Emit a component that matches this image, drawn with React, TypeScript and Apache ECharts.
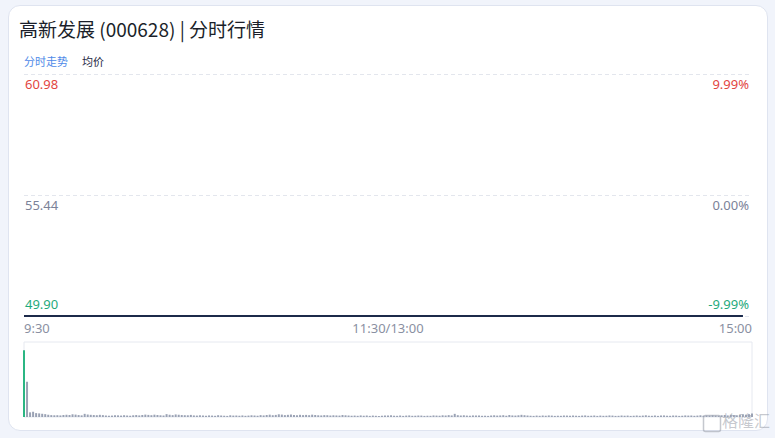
import React, { useEffect, useRef } from "react";
import * as echarts from "echarts";

const titleText = "高新发展 (000628) | 分时行情";
const legendNames = ["分时走势", "均价"];
const prevClose = 55.44;
const priceTickLabels = ["49.90", "55.44", "60.98"];
const pctTickLabels = ["-9.99%", "0.00%", "9.99%"];
const pctMin = -9.99;
const pctMax = 9.99;
const priceMin = 49.9;
const priceMax = 60.98;
const volMax = 10000;

// 9:30..11:30 and 13:01..15:00
const morningStart = 9 * 60 + 30;
const afternoonStart = 13 * 60 + 1;
const times: string[] = [];
for (let m = morningStart; m <= 11 * 60 + 30; m++) times.push(`${Math.floor(m / 60)}:${String(m % 60).padStart(2, "0")}`);
for (let m = afternoonStart; m <= 15 * 60; m++) times.push(`${Math.floor(m / 60)}:${String(m % 60).padStart(2, "0")}`);
const midLabel = "11:30/13:00";

const price = [
  49.9, 49.9, 49.9, 49.9, 49.9, 49.9, 49.9, 49.9, 49.9, 49.9, 49.9, 49.9, 49.9, 49.9, 49.9, 49.9, 49.9, 49.9, 49.9, 49.9,
  49.9, 49.9, 49.9, 49.9, 49.9, 49.9, 49.9, 49.9, 49.9, 49.9, 49.9, 49.9, 49.9, 49.9, 49.9, 49.9, 49.9, 49.9, 49.9, 49.9,
  49.9, 49.9, 49.9, 49.9, 49.9, 49.9, 49.9, 49.9, 49.9, 49.9, 49.9, 49.9, 49.9, 49.9, 49.9, 49.9, 49.9, 49.9, 49.9, 49.9,
  49.9, 49.9, 49.9, 49.9, 49.9, 49.9, 49.9, 49.9, 49.9, 49.9, 49.9, 49.9, 49.9, 49.9, 49.9, 49.9, 49.9, 49.9, 49.9, 49.9,
  49.9, 49.9, 49.9, 49.9, 49.9, 49.9, 49.9, 49.9, 49.9, 49.9, 49.9, 49.9, 49.9, 49.9, 49.9, 49.9, 49.9, 49.9, 49.9, 49.9,
  49.9, 49.9, 49.9, 49.9, 49.9, 49.9, 49.9, 49.9, 49.9, 49.9, 49.9, 49.9, 49.9, 49.9, 49.9, 49.9, 49.9, 49.9, 49.9, 49.9,
  49.9, 49.9, 49.9, 49.9, 49.9, 49.9, 49.9, 49.9, 49.9, 49.9, 49.9, 49.9, 49.9, 49.9, 49.9, 49.9, 49.9, 49.9, 49.9, 49.9,
  49.9, 49.9, 49.9, 49.9, 49.9, 49.9, 49.9, 49.9, 49.9, 49.9, 49.9, 49.9, 49.9, 49.9, 49.9, 49.9, 49.9, 49.9, 49.9, 49.9,
  49.9, 49.9, 49.9, 49.9, 49.9, 49.9, 49.9, 49.9, 49.9, 49.9, 49.9, 49.9, 49.9, 49.9, 49.9, 49.9, 49.9, 49.9, 49.9, 49.9,
  49.9, 49.9, 49.9, 49.9, 49.9, 49.9, 49.9, 49.9, 49.9, 49.9, 49.9, 49.9, 49.9, 49.9, 49.9, 49.9, 49.9, 49.9, 49.9, 49.9,
  49.9, 49.9, 49.9, 49.9, 49.9, 49.9, 49.9, 49.9, 49.9, 49.9, 49.9, 49.9, 49.9, 49.9, 49.9, 49.9, 49.9, 49.9, 49.9, 49.9,
  49.9, 49.9, 49.9, 49.9, 49.9, 49.9, 49.9, 49.9, 49.9, 49.9, 49.9, 49.9, 49.9, 49.9, 49.9, 49.9, 49.9, 49.9,
];

const avgPrice = [
  49.9, 49.9, 49.9, 49.9, 49.9, 49.9, 49.9, 49.9, 49.9, 49.9, 49.9, 49.9, 49.9, 49.9, 49.9, 49.9, 49.9, 49.9, 49.9, 49.9,
  49.9, 49.9, 49.9, 49.9, 49.9, 49.9, 49.9, 49.9, 49.9, 49.9, 49.9, 49.9, 49.9, 49.9, 49.9, 49.9, 49.9, 49.9, 49.9, 49.9,
  49.9, 49.9, 49.9, 49.9, 49.9, 49.9, 49.9, 49.9, 49.9, 49.9, 49.9, 49.9, 49.9, 49.9, 49.9, 49.9, 49.9, 49.9, 49.9, 49.9,
  49.9, 49.9, 49.9, 49.9, 49.9, 49.9, 49.9, 49.9, 49.9, 49.9, 49.9, 49.9, 49.9, 49.9, 49.9, 49.9, 49.9, 49.9, 49.9, 49.9,
  49.9, 49.9, 49.9, 49.9, 49.9, 49.9, 49.9, 49.9, 49.9, 49.9, 49.9, 49.9, 49.9, 49.9, 49.9, 49.9, 49.9, 49.9, 49.9, 49.9,
  49.9, 49.9, 49.9, 49.9, 49.9, 49.9, 49.9, 49.9, 49.9, 49.9, 49.9, 49.9, 49.9, 49.9, 49.9, 49.9, 49.9, 49.9, 49.9, 49.9,
  49.9, 49.9, 49.9, 49.9, 49.9, 49.9, 49.9, 49.9, 49.9, 49.9, 49.9, 49.9, 49.9, 49.9, 49.9, 49.9, 49.9, 49.9, 49.9, 49.9,
  49.9, 49.9, 49.9, 49.9, 49.9, 49.9, 49.9, 49.9, 49.9, 49.9, 49.9, 49.9, 49.9, 49.9, 49.9, 49.9, 49.9, 49.9, 49.9, 49.9,
  49.9, 49.9, 49.9, 49.9, 49.9, 49.9, 49.9, 49.9, 49.9, 49.9, 49.9, 49.9, 49.9, 49.9, 49.9, 49.9, 49.9, 49.9, 49.9, 49.9,
  49.9, 49.9, 49.9, 49.9, 49.9, 49.9, 49.9, 49.9, 49.9, 49.9, 49.9, 49.9, 49.9, 49.9, 49.9, 49.9, 49.9, 49.9, 49.9, 49.9,
  49.9, 49.9, 49.9, 49.9, 49.9, 49.9, 49.9, 49.9, 49.9, 49.9, 49.9, 49.9, 49.9, 49.9, 49.9, 49.9, 49.9, 49.9, 49.9, 49.9,
  49.9, 49.9, 49.9, 49.9, 49.9, 49.9, 49.9, 49.9, 49.9, 49.9, 49.9, 49.9, 49.9, 49.9, 49.9, 49.9, 49.9, 49.9,
];

const volume = [
  8900, 4700, 620, 700, 520, 480, 430, 380, 300, 250, 230, 240, 210, 260, 300, 270, 360, 320, 260, 220,
  420, 330, 290, 260, 240, 290, 250, 200, 170, 190, 230, 220, 190, 240, 200, 170, 230, 260, 210, 270,
  320, 280, 240, 310, 270, 230, 200, 380, 300, 250, 340, 300, 260, 240, 230, 280, 210, 190, 230, 200,
  170, 210, 190, 160, 240, 200, 170, 150, 230, 190, 200, 170, 210, 160, 190, 230, 200, 170, 250, 210,
  270, 310, 240, 280, 360, 320, 250, 290, 330, 270, 230, 290, 250, 280, 240, 310, 270, 230, 210, 250,
  240, 200, 230, 210, 190, 270, 230, 200, 170, 190, 160, 210, 170, 200, 150, 190, 160, 130, 170, 200,
  190, 230, 170, 160, 200, 150, 190, 210, 160, 170, 200, 190, 150, 170, 160, 210, 190, 170, 230, 200,
  250, 210, 420, 240, 200, 230, 190, 170, 210, 200, 190, 160, 170, 150, 200, 230, 190, 210, 240, 170,
  270, 210, 190, 230, 290, 240, 200, 170, 150, 190, 160, 200, 170, 210, 190, 150, 170, 160, 200, 190,
  160, 200, 170, 150, 190, 210, 160, 170, 200, 150, 190, 160, 170, 210, 190, 150, 160, 200, 170, 190,
  150, 170, 200, 160, 190, 230, 170, 160, 200, 150, 190, 210, 170, 160, 200, 190, 150, 170, 210, 190,
  200, 160, 190, 230, 170, 210, 190, 240, 200, 170, 230, 270, 210, 300, 250, 230, 280, 340, 310, 380,
  460,
];

const RED = "#e2463f";
const GREEN = "#1faa7c";
const GRAY = "#7b8298";
const FONT = "'Noto Sans', 'Noto Sans CJK SC', sans-serif";

const near = (a: number, b: number) => Math.abs(a - b) < 1e-6;
const pctIndex = (v: number) => (near(v, pctMin) ? 0 : near(v, 0) ? 1 : near(v, pctMax) ? 2 : -1);
const tickColor = (v: number) => {
  const i = pctIndex(v);
  return i === 2 ? RED : i === 0 ? GREEN : GRAY;
};

function pctAxis(position: "left" | "right", showIdx: number[], vAlign: "top" | "bottom", labels: string[], splitLine: boolean) {
  return {
    type: "value",
    gridIndex: 0,
    position,
    min: pctMin,
    max: pctMax,
    interval: pctMax,
    axisLine: { show: false },
    axisTick: { show: false },
    splitLine: splitLine ? { show: true, lineStyle: { color: "#e3e6ed", type: [4, 3], width: 1 } } : { show: false },
    axisLabel: {
      inside: true,
      margin: position === "left" ? 1 : 3,
      fontSize: 13,
      fontFamily: FONT,
      verticalAlign: vAlign,
      padding: vAlign === "top" ? [3, 0, 0, 0] : [0, 0, 6, 0],
      color: (v: number) => tickColor(v),
      formatter: (v: number) => {
        const i = pctIndex(v);
        return showIdx.includes(i) ? labels[i] : "";
      },
    },
  };
}

export default function App() {
  const ref = useRef<HTMLDivElement>(null);
  useEffect(() => {
    if (!ref.current) return;
    const chart = echarts.init(ref.current, undefined, { renderer: "svg" });
    const lastIdx = times.length - 1;
    const midIdx = times.indexOf("11:30");
    const option: any = {
      animation: false,
      backgroundColor: "transparent",
      textStyle: { fontFamily: FONT },
      title: {
        text: titleText,
        left: 14,
        top: 14,
        textStyle: { fontSize: 19, fontWeight: "normal", color: "#1b1f2a", fontFamily: "'Noto Sans CJK SC', sans-serif" },
      },
      legend: {
        left: 14,
        top: 50,
        icon: "none",
        itemWidth: 0,
        itemHeight: 0,
        itemGap: 9,
        selectedMode: false,
        textStyle: { fontSize: 11, fontFamily: "'Noto Sans CJK SC', sans-serif" },
        data: [
          { name: legendNames[0], textStyle: { color: "#4f8ae8" } },
          { name: legendNames[1], textStyle: { color: "#1f2a44" } },
        ],
      },
      grid: [
        { left: 24, right: 23, top: 74, height: 242 },
        { left: 24, right: 23, top: 342, height: 75, show: true, borderColor: "#e6e9f0", borderWidth: 1, backgroundColor: "transparent" },
      ],
      xAxis: [
        {
          type: "category",
          gridIndex: 0,
          data: times,
          boundaryGap: false,
          axisLine: { show: false },
          axisTick: { show: false },
          splitLine: { show: false },
          axisLabel: {
            interval: (i: number) => i === 0 || i === midIdx || i === lastIdx,
            formatter: (v: string, i: number) => (i === midIdx ? midLabel : v),
            color: "#8a90a2",
            fontSize: 13,
            fontFamily: FONT,
            margin: 5,
            showMinLabel: true,
            showMaxLabel: true,
            alignMinLabel: "left",
            alignMaxLabel: "right",
          },
        },
        {
          type: "category",
          gridIndex: 1,
          data: times,
          boundaryGap: false,
          axisLine: { show: false },
          axisTick: { show: false },
          axisLabel: { show: false },
          splitLine: { show: false },
        },
      ],
      yAxis: [
        { type: "value", gridIndex: 0, min: priceMin, max: priceMax, show: false, splitLine: { show: false } },
        pctAxis("left", [1, 2], "top", priceTickLabels, true),
        pctAxis("left", [0], "bottom", priceTickLabels, false),
        pctAxis("right", [1, 2], "top", pctTickLabels, false),
        pctAxis("right", [0], "bottom", pctTickLabels, false),
        { type: "value", gridIndex: 1, min: 0, max: volMax, show: false, splitLine: { show: false } },
      ],
      series: [
        {
          name: legendNames[0],
          type: "line",
          xAxisIndex: 0,
          yAxisIndex: 0,
          data: price,
          symbol: "none",
          color: "#4f8ae8",
          lineStyle: { width: 2, color: "#4f8ae8" },
          z: 3,
        },
        {
          name: legendNames[1],
          type: "line",
          xAxisIndex: 0,
          yAxisIndex: 0,
          data: avgPrice,
          symbol: "none",
          color: "#1c2a4a",
          lineStyle: { width: 2, color: "#1c2a4a" },
          z: 4,
        },
        {
          name: "成交量",
          type: "bar",
          xAxisIndex: 1,
          yAxisIndex: 5,
          data: volume,
          barWidth: 2,
          itemStyle: {
            color: (p: any) => {
              const i = p.dataIndex;
              const cur = price[Math.min(i, price.length - 1)];
              const prev = i === 0 ? prevClose : price[Math.min(i - 1, price.length - 1)];
              return cur < prev ? "#2bb683" : cur > prev ? RED : "#9aa2b4";
            },
          },
        },
      ],
      graphic: [
        {
          type: "rect",
          left: 701,
          top: 413,
          shape: { width: 17, height: 16, r: 2 },
          style: { fill: "none", stroke: "rgba(150,155,165,0.55)", lineWidth: 1.5 },
          silent: true,
        },
        {
          type: "text",
          left: 722,
          top: 412,
          style: { text: "格隆汇", fontSize: 16, fill: "rgba(150,155,165,0.55)", fontFamily: "'Noto Sans CJK SC', sans-serif" },
          silent: true,
        },
      ],
    };
    chart.setOption(option);
    return () => chart.dispose();
  }, []);

  return (
    <div style={{ position: "fixed", left: 0, top: 0, width: 775, height: 438, background: "#f1f4fb" }}>
      <div
        style={{
          position: "absolute",
          left: 8,
          top: 5,
          width: 758,
          height: 424,
          background: "#ffffff",
          border: "1px solid #dfe4f0",
          borderRadius: 12,
        }}
      />
      <div ref={ref} style={{ position: "absolute", left: 0, top: 0, width: 775, height: 438 }} />
    </div>
  );
}
